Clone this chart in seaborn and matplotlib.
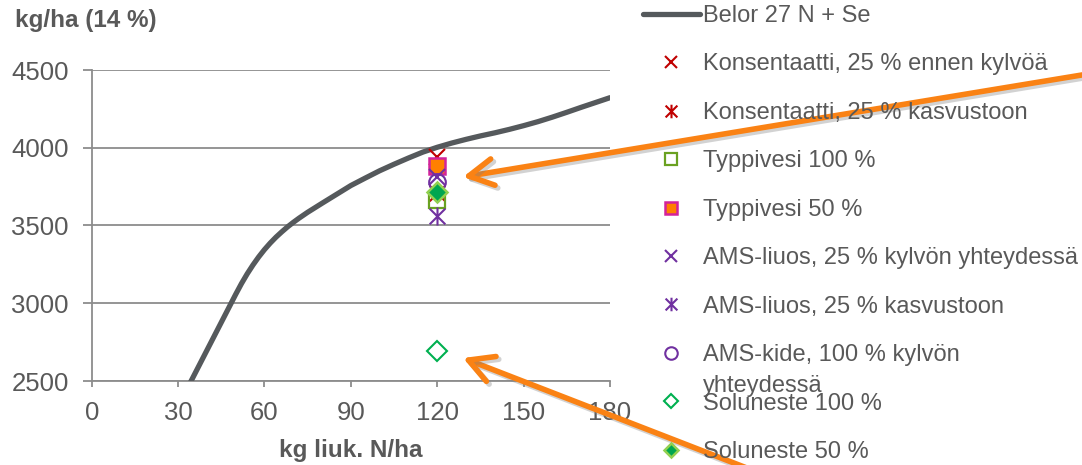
import numpy as np
import pandas as pd
import matplotlib
matplotlib.use("Agg")
import matplotlib.pyplot as plt
import seaborn as sns
from matplotlib.path import Path
from matplotlib import patheffects as pe

# ---------------- data ----------------
curve_n = [30, 35, 40, 45, 50, 52, 54, 56, 58, 60, 62, 64, 66, 68, 70, 72, 75, 80, 85,
           90, 95, 100, 105, 110, 115, 120, 125, 130, 135, 140, 145, 150, 155, 160,
           165, 170, 175, 180]
curve_yield = [2337, 2517, 2697, 2877, 3057, 3126, 3189, 3246, 3298, 3345, 3387, 3425,
               3459, 3491, 3520, 3547, 3585, 3643, 3700, 3757, 3805, 3852, 3894, 3934,
               3972, 4003, 4030, 4054, 4076, 4096, 4118, 4142, 4168, 4197, 4228, 4260,
               4291, 4322]
curve_label = "Belor 27 N + Se"

series_labels = [
    "Konsentaatti, 25 % ennen kylvöä",
    "Konsentaatti, 25 % kasvustoon",
    "Typpivesi 100 %",
    "Typpivesi 50 %",
    "AMS-liuos, 25 % kylvön yhteydessä",
    "AMS-liuos, 25 % kasvustoon",
    "AMS-kide, 100 % kylvön yhteydessä",
    "Soluneste 100 %",
    "Soluneste 50 %",
]
series_n = [120, 120, 120, 120, 120, 120, 120, 120, 120]
series_yield = [3940, 3710, 3665, 3883, 3810, 3560, 3780, 2695, 3715]

x_ticks = [0, 30, 60, 90, 120, 150, 180]
y_ticks = [2500, 3000, 3500, 4000, 4500]
x_title = "kg liuk. N/ha"
y_title = "kg/ha (14 %)"

# ---------------- style ----------------
sns.set_theme(style="white")
plt.rcParams["font.family"] = ["Liberation Sans", "DejaVu Sans"]
TXT = "#595959"
GRID = "#8c8c8c"

star = Path([(-1, -1), (1, 1), (-1, 1), (1, -1), (0, -1.15), (0, 1.15)],
            [Path.MOVETO, Path.LINETO, Path.MOVETO, Path.LINETO, Path.MOVETO, Path.LINETO])

styles = [
    dict(marker="x", mec="#C00000", mfc="none", ms=12, mew=1.5),
    dict(marker=star, mec="#C00000", mfc="none", ms=13, mew=1.5),
    dict(marker="s", mec="#6AA121", mfc="none", ms=12, mew=1.6),
    dict(marker="s", mec="#D2239B", mfc="#FF8000", ms=12, mew=1.8),
    dict(marker="x", mec="#7030A0", mfc="none", ms=12, mew=1.5),
    dict(marker=star, mec="#7030A0", mfc="none", ms=13, mew=1.5),
    dict(marker="o", mec="#7030A0", mfc="none", ms=12, mew=1.5),
    dict(marker="D", mec="#00B050", mfc="none", ms=10, mew=1.5),
    dict(marker="D", mec="#92D050", mfc="#00A650", ms=10, mew=1.8),
]

W, H = 1082, 465
fig = plt.figure(figsize=(W / 100, H / 100), dpi=100)
ax = fig.add_axes([91.7 / W, 1 - 381 / H, (610 - 91.7) / W, (381 - 70) / H])

df_curve = pd.DataFrame({"n": curve_n, "y": curve_yield})
sns.lineplot(data=df_curve, x="n", y="y", ax=ax, color="#55595c", lw=3.8,
             sort=False, estimator=None, label=curve_label, legend=False,
             solid_capstyle="round", solid_joinstyle="round", zorder=3)

for lab, n, y, st in zip(series_labels, series_n, series_yield, styles):
    d = pd.DataFrame({"n": [n], "y": [y]})
    sns.lineplot(data=d, x="n", y="y", ax=ax, linestyle="", estimator=None,
                 label=lab, legend=False, zorder=4,
                 marker=st["marker"], markersize=st["ms"],
                 markerfacecolor=st["mfc"], markeredgecolor=st["mec"],
                 markeredgewidth=st["mew"], color=st["mec"])

ax.set_xlim(0, 180)
ax.set_ylim(2500, 4500)
ax.set_xticks(x_ticks)
ax.set_yticks(y_ticks)
ax.grid(False)
for yv in y_ticks:
    ax.axhline(yv, color=GRID, lw=1.3, zorder=1)
for s in ["top", "right"]:
    ax.spines[s].set_visible(False)
for s in ["left", "bottom"]:
    ax.spines[s].set_color(GRID)
    ax.spines[s].set_linewidth(1.3)
ax.tick_params(axis="x", direction="out", length=4.5, width=1.3, color=GRID,
               labelsize=18.5, labelcolor=TXT, pad=10, bottom=True)
ax.tick_params(axis="y", direction="out", length=6.5, width=1.3, color=GRID,
               labelsize=18.5, labelcolor=TXT, pad=10, left=True)
ax.set_xlabel(x_title, fontsize=17.5, fontweight="bold", color=TXT, labelpad=10)
ax.set_ylabel("")
fig.text(15 / W, 1 - 21 / H, y_title, fontsize=17.5, fontweight="bold", color=TXT,
         ha="left", va="center")

# legend
handles, labels = ax.get_legend_handles_labels()
labels = [("AMS-kide, 100 % kylvön" if l.startswith("AMS-kide") else l) for l in labels]
leg = fig.legend(handles, labels, loc="upper left", bbox_to_anchor=(643 / W, 1 - 5 / H),
                 bbox_transform=fig.transFigure, frameon=False, fontsize=17,
                 borderpad=0, borderaxespad=0, handlelength=2.4, handletextpad=0.15,
                 labelspacing=1.12, markerscale=0.75, labelcolor=TXT)
fig.canvas.draw()
r = fig.canvas.get_renderer()
for t in leg.get_texts():
    if t.get_text().startswith("AMS-kide"):
        bb = t.get_window_extent(r)
        fig.text(bb.x0, bb.y0 - 9, "yhteydessä", fontsize=17, color=TXT,
                 ha="left", va="top", transform=None)

# arrows
shadow = [pe.SimpleLineShadow(offset=(2, -2), shadow_color="#7f7f7f", alpha=0.35),
          pe.Normal()]
for tip, tail in [((463, H - 177), (1100, H - 72)), ((463, H - 358), (770, H - 477))]:
    a = ax.annotate("", xy=tip, xycoords="figure pixels", xytext=tail,
                    textcoords="figure pixels", annotation_clip=False,
                    arrowprops=dict(arrowstyle="->,head_length=1.1,head_width=0.6",
                                    mutation_scale=16, color="#FA8214", lw=4.0,
                                    shrinkA=0, shrinkB=0, capstyle="round",
                                    joinstyle="round"))
    a.arrow_patch.set_path_effects(shadow)
    a.set_zorder(10)

fig.savefig("out.png", dpi=100)
